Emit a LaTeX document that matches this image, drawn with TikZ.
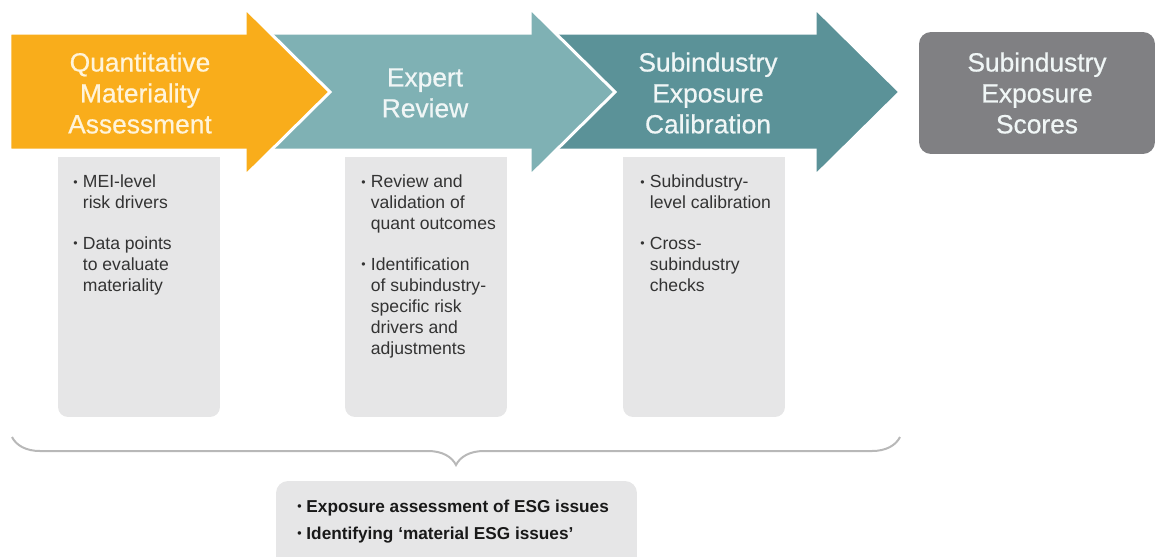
\documentclass[tikz,border=0pt]{standalone}
\usepackage{fontspec}
\setmainfont{Liberation Sans}
\newfontfamily\titlefont[FakeBold=0.6]{Liberation Sans}
\usetikzlibrary{decorations.pathreplacing}
\definecolor{orangeq}{HTML}{F9AD1B}
\definecolor{tealexp}{HTML}{7FB1B4}
\definecolor{tealcal}{HTML}{5B9298}
\definecolor{greyscore}{HTML}{808083}
\definecolor{greylist}{HTML}{E6E6E7}
\definecolor{greybrace}{HTML}{B8B8B8}
\definecolor{creamtext}{HTML}{FFF4DA}
\definecolor{palettext}{HTML}{F0F6F6}
\newcommand{\blt}{\raisebox{0.2ex}{\scriptsize\textbullet}}
\tikzset{
	stagearrow/.style = {draw=white, line width=0.06cm, line join=miter},
	stagetitle/.style = {align=center, text=palettext, inner sep=0pt, font=\titlefont\fontsize{15}{17.6}\selectfont},
	listbox/.style = {rectangle, rounded corners=0.2cm, fill=greylist, minimum width=3.24cm, minimum height=5.2cm, inner sep=0pt},
	listtext/.style = {anchor=north west, inner sep=0pt, text=black!80, font=\fontsize{10}{11.9}\selectfont},
	scorebox/.style = {rectangle, rounded corners=0.24cm, fill=greyscore, text=palettext, minimum width=4.72cm, minimum height=2.44cm, align=center, font=\titlefont\fontsize{15}{17.6}\selectfont},
	summarybox/.style = {rectangle, rounded corners=0.24cm, fill=greylist, minimum width=7.22cm, minimum height=2.4cm, inner sep=0pt},
	summarytext/.style = {anchor=west, inner sep=0pt, align=left, text=black!90, font=\fontsize{9.8}{15.3}\selectfont\bfseries},
	bracket/.style = {draw=greybrace, line width=0.04cm, decorate, decoration={brace, mirror, amplitude=0.56cm}}
}

\begin{document}
\begin{tikzpicture}[x=0.02cm, y=-0.02cm]
	\clip (0,0) rectangle (1156,556);

	% lists below the stages
	\node (qlist) [listbox] at (139,287) {};
	\node (elist) [listbox] at (426,287) {};
	\node (clist) [listbox] at (704,287) {};
	\foreach \b in {qlist, elist, clist}
		\fill[greylist] (\b.north west) rectangle ([yshift=-0.3cm]\b.north east);

	% stage arrows, drawn right to left so each tip lies on the next one
	\foreach \dx/\lx/\col in {570/550/tealcal, 285/265/tealexp, 0/10/orangeq}
		\filldraw[stagearrow, fill=\col] (\lx,33) -- (\dx+245,33) -- (\dx+245,8) -- (\dx+330,92)
			-- (\dx+245,176) -- (\dx+245,150) -- (\lx,150) -- cycle;

	% stage titles
	\node (quant) [stagetitle, text=creamtext] at (140,93) {Quantitative\\Materiality\\Assessment};
	\node (expert) [stagetitle] at (425,93) {Expert\\Review};
	\node (calib) [stagetitle] at (708,93) {Subindustry\\Exposure\\Calibration};
	\node (scores) [scorebox] at (1037,93) {Subindustry\\Exposure\\Scores};

	% list texts
	\node (qtext) [listtext] at (73,173) {\begin{tabular}{@{}l@{\hspace{3pt}}l@{}}
		\blt & MEI-level\\ & risk drivers\\[11.4pt]
		\blt & Data points\\ & to evaluate\\ & materiality
	\end{tabular}};
	\node (etext) [listtext] at (361,173) {\begin{tabular}{@{}l@{\hspace{3pt}}l@{}}
		\blt & Review and\\ & validation of\\ & quant outcomes\\[11.4pt]
		\blt & Identification\\ & of subindustry-\\ & specific risk\\ & drivers and\\ & adjustments
	\end{tabular}};
	\node (ctext) [listtext] at (640,173) {\begin{tabular}{@{}l@{\hspace{3pt}}l@{}}
		\blt & Subindustry-\\ & level calibration\\[11.4pt]
		\blt & Cross-\\ & subindustry\\ & checks
	\end{tabular}};

	% brace and summary
	\coordinate (braceL) at (12,437);
	\coordinate (braceR) at (900,437);
	\draw[bracket] (braceL) -- (braceR);
	\node (summary) [summarybox] at (456.5,541) {};
	\node (sumtext) [summarytext] at (297,521.5) {\blt\ Exposure assessment of ESG issues\\\blt\ Identifying ‘material ESG issues’};
\end{tikzpicture}
\end{document}
